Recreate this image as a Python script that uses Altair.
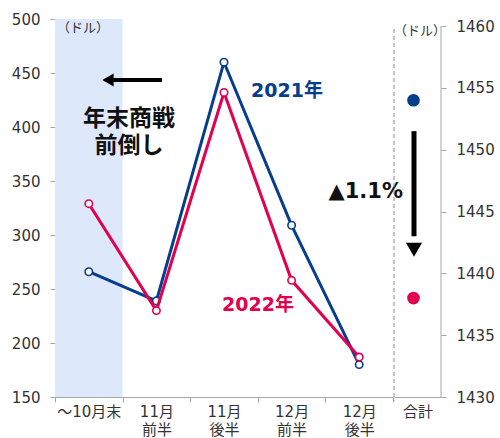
import altair as alt
import pandas as pd

# ---- data ----
periods = ["～10月末", "11月\n前半", "11月\n後半", "12月\n前半", "12月\n後半"]
v2021 = [266, 239, 460, 309, 180]
v2022 = [329, 230, 432, 258, 187]
series_names = ["2021年", "2022年"]
total_cat = ["合計"]
total_2021 = [1454.0]
total_2022 = [1438.0]
left_ticks = [150, 200, 250, 300, 350, 400, 450, 500]
right_ticks = [1430, 1435, 1440, 1445, 1450, 1455, 1460]

BLUE = "#063d8d"
RED = "#e3004f"
GRAY = "#a6a6a6"
TXT = "#333333"
FONT = "DejaVu Sans, Noto Sans CJK JP"
W_L, W_R, H = 338, 47, 378

df = pd.DataFrame({
    "period": periods * 2,
    "series": [series_names[0]] * 5 + [series_names[1]] * 5,
    "value": v2021 + v2022,
})
dft = pd.DataFrame({
    "cat": total_cat * 2,
    "series": series_names,
    "value": total_2021 + total_2022,
})

xL = alt.X("period:N", sort=periods,
           scale=alt.Scale(paddingInner=0, paddingOuter=0),
           axis=alt.Axis(title=None, labelAngle=0,
                         labelExpr="split(datum.label, '\\n')",
                         tickBand="extent", tickSize=5, tickColor=GRAY,
                         domainColor=GRAY, labelPadding=2,
                         labelLineHeight=18))
yL = alt.Y("value:Q",
           scale=alt.Scale(domain=[150, 500], nice=False, zero=False),
           axis=alt.Axis(title=None, values=left_ticks, grid=False,
                         tickSize=5, tickColor=GRAY, domainColor=GRAY,
                         labelPadding=10, minExtent=50, maxExtent=50))

base = alt.Chart(df)

shade = alt.Chart(pd.DataFrame({"period": [periods[0]]})).mark_rect(
    color="#dde8fb").encode(x=xL, y=alt.value(0), y2=alt.value(H))

def series_layers(name, color):
    d = base.transform_filter(alt.datum.series == name)
    line = d.mark_line(color=color, strokeWidth=3).encode(x=xL, y=yL)
    pts = d.mark_point(shape="circle", filled=True, fill="white",
                       stroke=color, strokeWidth=1.6, size=55,
                       opacity=1).encode(x=xL, y=yL)
    return [line, pts]

lyr_b = series_layers(series_names[0], BLUE)
lyr_r = series_layers(series_names[1], RED)

unit_l = alt.Chart(pd.DataFrame({"t": ["（ドル）"]})).mark_text(
    font=FONT, fontSize=13, color=TXT, align="center").encode(
    x=alt.value(28), y=alt.value(9), text="t:N")

arrow_line = alt.Chart(pd.DataFrame({"a": [0]})).mark_rule(
    color="black", strokeWidth=4).encode(
    x=alt.value(55), x2=alt.value(107), y=alt.datum(443.5))
arrow_head = alt.Chart(pd.DataFrame({"a": [0]})).mark_point(
    shape="triangle-left", filled=True, color="black", size=170,
    opacity=1).encode(x=alt.value(53), y=alt.datum(443.5))

note1 = alt.Chart(pd.DataFrame({"t": ["年末商戦"]})).mark_text(
    font=FONT, fontSize=23, fontWeight="bold", color="#111111").encode(
    x=alt.value(74), y=alt.datum(407), text="t:N")
note2 = alt.Chart(pd.DataFrame({"t": ["前倒し"]})).mark_text(
    font=FONT, fontSize=23, fontWeight="bold", color="#111111").encode(
    x=alt.value(74), y=alt.datum(382), text="t:N")

lab21 = alt.Chart(pd.DataFrame({"t": [series_names[0]]})).mark_text(
    font=FONT, fontSize=19, fontWeight="bold", color=BLUE,
    align="left").encode(x=alt.value(196), y=alt.datum(433), text="t:N")
lab22 = alt.Chart(pd.DataFrame({"t": [series_names[1]]})).mark_text(
    font=FONT, fontSize=19, fontWeight="bold", color=RED,
    align="left").encode(x=alt.value(167), y=alt.datum(235), text="t:N")

pct = alt.Chart(pd.DataFrame({"t": ["▲1.1%"]})).mark_text(
    font=FONT, fontSize=21, fontWeight="bold", color="#111111",
    align="right").encode(x=alt.value(348), y=alt.datum(340), text="t:N")

left = alt.layer(shade, *lyr_b, *lyr_r, unit_l, arrow_line, arrow_head,
                 note1, note2, lab21, lab22, pct).properties(
    width=W_L, height=H)

# ---- right panel ----
xR = alt.X("cat:N", scale=alt.Scale(paddingInner=0, paddingOuter=0),
           axis=alt.Axis(title=None, labelAngle=0, ticks=False,
                         domainColor=GRAY, labelPadding=7))
yR = alt.Y("value:Q",
           scale=alt.Scale(domain=[1430, 1460.57], nice=False, zero=False),
           axis=alt.Axis(title=None, orient="right", values=right_ticks,
                         format="d", grid=False, domain=False, tickSize=5,
                         tickColor=GRAY, labelPadding=10))

dots = alt.Chart(dft).mark_circle(size=160, opacity=1, xOffset=-4).encode(
    x=xR, y=yR,
    color=alt.Color("series:N", scale=alt.Scale(domain=series_names,
                                                range=[BLUE, RED]),
                    legend=None))
axis_line = alt.Chart(pd.DataFrame({"a": [0]})).mark_rule(
    color=GRAY, strokeWidth=1).encode(
    x=alt.value(W_R), y=alt.datum(1430), y2=alt.datum(1460))
dash = alt.Chart(pd.DataFrame({"a": [0]})).mark_rule(
    color="#8c8c8c", strokeWidth=1, strokeDash=[4, 3]).encode(
    x=alt.value(0), y=alt.value(10), y2=alt.value(H + 4))
varrow = alt.Chart(pd.DataFrame({"a": [0]})).mark_rule(
    color="black", strokeWidth=5).encode(
    x=alt.value(20), y=alt.datum(1451.5), y2=alt.datum(1443))
vhead = alt.Chart(pd.DataFrame({"a": [0]})).mark_point(
    shape="triangle-down", filled=True, color="black", size=260,
    opacity=1).encode(x=alt.value(20), y=alt.datum(1441.9))
unit_r = alt.Chart(pd.DataFrame({"t": ["（ドル）"]})).mark_text(
    font=FONT, fontSize=13, color=TXT, align="center").encode(
    x=alt.value(26), y=alt.value(12), text="t:N")

right = alt.layer(dash, axis_line, varrow, vhead, dots, unit_r).properties(
    width=W_R, height=H)

chart = alt.hconcat(left, right, spacing=1, bounds="flush").properties(
    padding={"left": 5, "top": 12, "right": 2, "bottom": 0}
).configure_view(stroke=None).configure_axis(
    labelFont=FONT, labelFontSize=15, labelColor=TXT
)

chart.save("out.html", embed_options={"renderer": "svg", "actions": False})
